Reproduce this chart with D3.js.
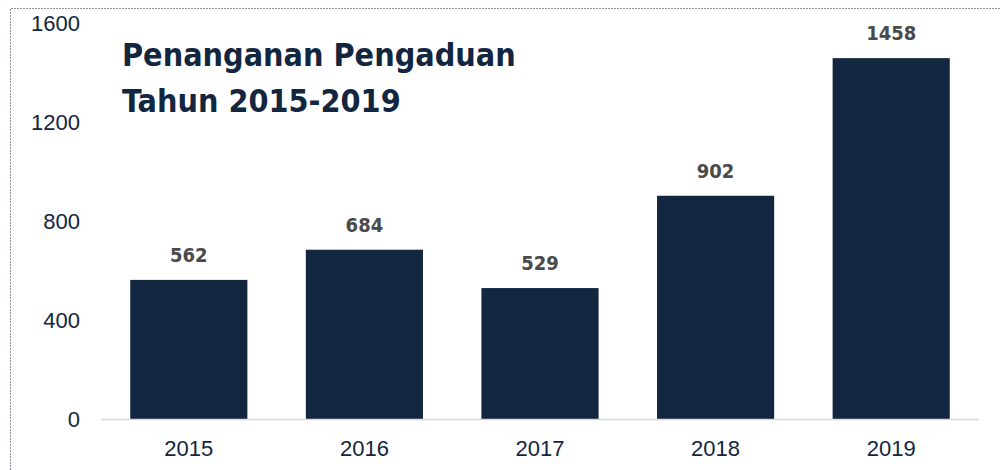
<!DOCTYPE html>
<html>
<head>
<meta charset="utf-8">
<script src="https://cdn.jsdelivr.net/npm/d3@7"></script>
<style>
  body { margin: 0; background: #fff; }
  svg { display: block; }
</style>
</head>
<body>
<svg id="chart"></svg>
<script>
const YEARS = ['2015', '2016', '2017', '2018', '2019'];
const VALUES = [562, 684, 529, 902, 1458];
const Y_TICKS = [0, 400, 800, 1200, 1600];
const TITLE_LINES = ['Penanganan Pengaduan', 'Tahun 2015-2019'];

const WIDTH = 1000;
const HEIGHT = 470;
const NAVY = '#12263f';

const svg = d3.select('#chart')
  .attr('width', WIDTH)
  .attr('height', HEIGHT);

// dotted frame (top + left)
svg.append('path')
  .attr('d', `M10.5,${HEIGHT} V8.5 H${WIDTH}`)
  .attr('fill', 'none')
  .attr('stroke', '#8a94a6')
  .attr('stroke-width', 1)
  .attr('stroke-dasharray', '2,1');

const x = d3.scaleBand()
  .domain(YEARS)
  .range([101, 979])
  .paddingInner(0.333)
  .paddingOuter(0.1665);

const y = d3.scaleLinear()
  .domain([0, 1600])
  .range([419, 23]);

// y axis labels
svg.append('g')
  .selectAll('text')
  .data(Y_TICKS)
  .join('text')
  .attr('x', 80)
  .attr('y', d => y(d))
  .attr('dy', '0.35em')
  .attr('text-anchor', 'end')
  .attr('font-family', 'Liberation Sans, Arial, sans-serif')
  .attr('font-size', 22)
  .attr('fill', NAVY)
  .text(d => d);

// bars
svg.append('g')
  .selectAll('rect')
  .data(VALUES)
  .join('rect')
  .attr('x', (d, i) => x(YEARS[i]))
  .attr('y', d => y(d))
  .attr('width', x.bandwidth())
  .attr('height', d => y(0) - y(d))
  .attr('fill', NAVY);

// baseline
svg.append('line')
  .attr('x1', 101)
  .attr('x2', 979)
  .attr('y1', y(0) + 0.5)
  .attr('y2', y(0) + 0.5)
  .attr('stroke', '#d9d9d9')
  .attr('stroke-width', 1.5);

// category labels
svg.append('g')
  .selectAll('text')
  .data(YEARS)
  .join('text')
  .attr('x', d => x(d) + x.bandwidth() / 2)
  .attr('y', 456)
  .attr('text-anchor', 'middle')
  .attr('font-family', 'Liberation Sans, Arial, sans-serif')
  .attr('font-size', 22)
  .attr('fill', NAVY)
  .text(d => d);

// value labels
svg.append('g')
  .selectAll('text')
  .data(VALUES)
  .join('text')
  .attr('x', (d, i) => x(YEARS[i]) + x.bandwidth() / 2)
  .attr('y', d => y(d) - 18)
  .attr('text-anchor', 'middle')
  .attr('font-family', 'DejaVu Sans Condensed, sans-serif')
  .attr('font-weight', 'bold')
  .attr('font-size', 20)
  .attr('fill', '#4a4a4a')
  .text(d => d);

// title
svg.append('g')
  .selectAll('text')
  .data(TITLE_LINES)
  .join('text')
  .attr('x', 122)
  .attr('y', (d, i) => 66 + i * 46)
  .attr('font-family', 'DejaVu Sans Condensed, sans-serif')
  .attr('font-weight', 'bold')
  .attr('font-size', 32)
  .attr('fill', NAVY)
  .text(d => d);
</script>
</body>
</html>
